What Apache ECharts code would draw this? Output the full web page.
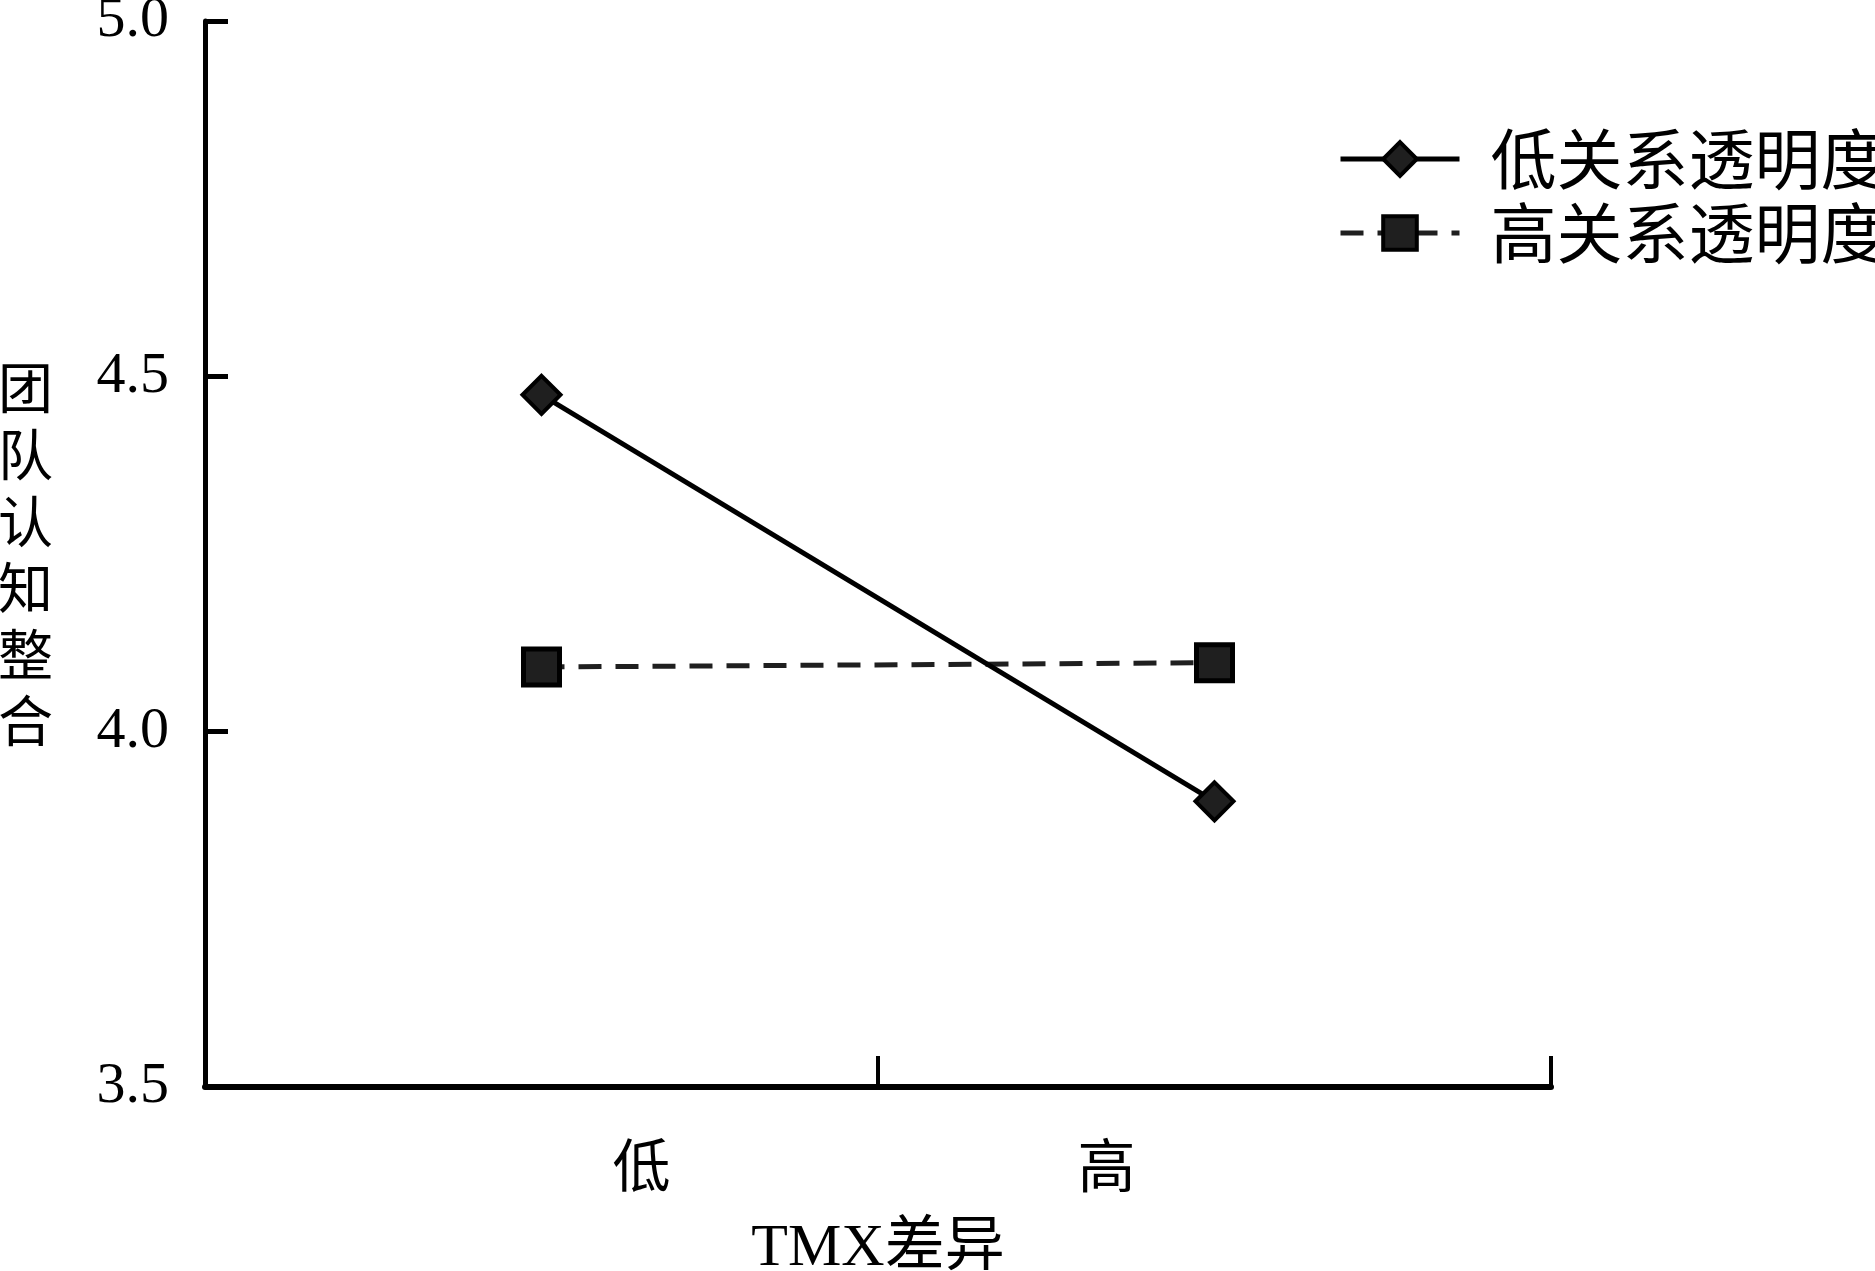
<!DOCTYPE html>
<html>
<head>
<meta charset="utf-8">
<script src="https://cdn.jsdelivr.net/npm/echarts@6/dist/echarts.min.js"></script>
<style>
html,body{margin:0;padding:0;background:#fff;}
#main{width:1875px;height:1271px;}
</style>
</head>
<body>
<div id="main"></div>
<script>
// ---- data ----
const categories = ['低', '高'];
const seriesNames = ['低关系透明度', '高关系透明度'];
const lowTransparency = [4.474, 3.902];
const highTransparency = [4.091, 4.097];
const yTicks = [3.5, 4.0, 4.5, 5.0];
const xAxisName = 'TMX差异';
const yAxisName = '团队认知整合';

const serif = '"Liberation Serif", "Noto Sans CJK SC", serif';
const cjk = '"Noto Sans CJK SC", "Liberation Serif", serif';

const chart = echarts.init(document.getElementById('main'), null, {renderer: 'canvas'});
chart.setOption({
  backgroundColor: '#ffffff',
  animation: false,
  grid: {left: 205, right: 324, top: 21, bottom: 184, containLabel: false, outerBoundsMode: 'none'},
  legend: {
    orient: 'vertical',
    left: 1333,
    top: 121,
    itemWidth: 119,
    itemHeight: 42,
    itemGap: 8,
    data: seriesNames,
    lineStyle: {width: 5},
    itemStyle: {borderWidth: 4},
    textStyle: {fontFamily: cjk, fontSize: 66, color: '#000', padding: [0, 0, 0, 26]}
  },
  xAxis: {
    type: 'category',
    data: categories,
    boundaryGap: true,
    name: xAxisName,
    nameLocation: 'middle',
    nameGap: 132,
    nameTextStyle: {fontFamily: serif, fontSize: 60, color: '#000'},
    axisLine: {show: true, lineStyle: {color: '#000', width: 6}},
    axisTick: {show: true, inside: true, length: 31, lineStyle: {color: '#000', width: 4}},
    axisLabel: {
      margin: 49,
      color: '#000',
      fontFamily: cjk,
      fontSize: 58,
      formatter: function (v, i) { return i === 0 ? '{a|' + v + '}' : '{b|' + v + '}'; },
      rich: {
        a: {fontFamily: cjk, fontSize: 58, color: '#000', padding: [0, 0, 0, 200]},
        b: {fontFamily: cjk, fontSize: 58, color: '#000', padding: [0, 216, 0, 0]}
      }
    },
    splitLine: {show: false}
  },
  yAxis: {
    type: 'value',
    min: yTicks[0],
    max: yTicks[yTicks.length - 1],
    interval: 0.5,
    name: yAxisName.split('').join('\n'),
    nameLocation: 'middle',
    nameRotate: 0,
    nameGap: 152,
    nameTextStyle: {fontFamily: cjk, fontSize: 55, lineHeight: 66.6, color: '#000', align: 'right'},
    axisLine: {show: true, lineStyle: {color: '#000', width: 5}},
    axisTick: {show: true, inside: true, length: 23, lineStyle: {color: '#000', width: 5}},
    axisLabel: {
      margin: 36,
      color: '#000',
      fontFamily: serif,
      fontSize: 58,
      formatter: function (v) { return v.toFixed(1); }
    },
    splitLine: {show: false}
  },
  series: [
    {
      name: seriesNames[0],
      type: 'line',
      data: lowTransparency,
      symbol: 'diamond',
      symbolSize: 38,
      itemStyle: {color: '#1f1f1f', borderColor: '#000', borderWidth: 4},
      lineStyle: {color: '#000', width: 5, type: 'solid'},
      z: 3
    },
    {
      name: seriesNames[1],
      type: 'line',
      data: highTransparency,
      symbol: 'rect',
      symbolSize: 36,
      itemStyle: {color: '#1f1f1f', borderColor: '#000', borderWidth: 5},
      lineStyle: {color: '#1f1f1f', width: 5, type: [23, 14]},
      z: 2
    }
  ]
});
</script>
</body>
</html>
